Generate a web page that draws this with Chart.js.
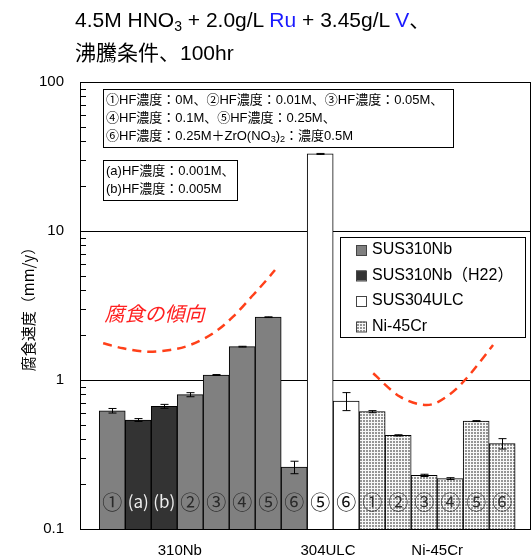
<!DOCTYPE html>
<html>
<head>
<meta charset="utf-8">
<script src="https://cdn.jsdelivr.net/npm/chart.js@4"></script>
<style>
  body { margin: 0; background: #fff; }
  #wrap { position: relative; width: 532px; height: 557px; }
  #chart { position: absolute; left: 0; top: 0; }
  #title { position: absolute; left: 75px; top: 3px; font: 21px "Liberation Sans", "Noto Sans CJK JP", sans-serif; line-height: 33px; color: #000; white-space: nowrap; }
  #title sub { font-size: 14px; vertical-align: -4px; line-height: 0; }
  #title .b { color: #1a1aff; }
</style>
</head>
<body>
<div id="wrap">
  <canvas id="chart" width="532" height="557"></canvas>
  <div id="title">4.5M HNO<sub>3</sub> + 2.0g/L <span class="b">Ru</span> + 3.45g/L <span class="b">V</span>、<br>沸騰条件、100hr</div>
</div>
<script>
// materials (legend) and which material each bar belongs to
const materials = ['SUS310Nb', 'SUS310Nb（H22）', 'SUS304ULC', 'Ni-45Cr'];
const barLabels = ['①', '(a)', '(b)', '②', '③', '④', '⑤', '⑥', '⑤', '⑥', '①', '②', '③', '④', '⑤', '⑥'];
const barMaterial = [0, 1, 1, 0, 0, 0, 0, 0, 2, 2, 3, 3, 3, 3, 3, 3];
// corrosion rate (mm/y) and error
const rates = [0.622, 0.539, 0.666, 0.797, 1.08, 1.674, 2.64, 0.26, 32.9, 0.723, 0.613, 0.425, 0.229, 0.218, 0.530, 0.374];
const errors = [0.022, 0.012, 0.02, 0.025, 0.008, 0.01, 0.015, 0.025, 0.25, 0.1, 0.01, 0.004, 0.004, 0.003, 0.004, 0.03];
// x axis group names and where they sit
const groupNames = ['310Nb', '304ULC', 'Ni-45Cr'];
const groupTicks = [2.6, 8.3, 12.5];
const yTicks = [0.1, 1, 10, 100];
// hand-drawn trend curves (bar index, mm/y)
const trendA = [[-0.35, 1.763], [0.42, 1.632], [1.32, 1.549], [2.22, 1.59], [2.99, 1.717], [3.88, 2.058], [4.65, 2.66], [5.42, 3.72], [5.94, 4.69], [6.26, 5.47]];
const trendB = [[10.04, 1.109], [11.07, 0.773], [12.09, 0.679], [12.86, 0.773], [13.63, 1.027], [14.65, 1.717]];

const noteLines1 = ['①HF濃度：0M、②HF濃度：0.01M、③HF濃度：0.05M、', '④HF濃度：0.1M、⑤HF濃度：0.25M、', '⑥HF濃度：0.25M＋ZrO(NO_3)_2：濃度0.5M'];
const noteLines2 = ['(a)HF濃度：0.001M、', '(b)HF濃度：0.005M'];

const FONT = '"Liberation Sans", "Noto Sans CJK JP", sans-serif';
const canvas = document.getElementById('chart');
const ctx = canvas.getContext('2d');

function dotPattern() {
    const c = document.createElement('canvas');
    c.width = 3; c.height = 3;
    const g = c.getContext('2d');
    g.fillStyle = '#f8f8f8';
    g.fillRect(0, 0, 3, 3);
    g.fillStyle = '#959595';
    g.fillRect(0, 0, 2, 2);
    return ctx.createPattern(c, 'repeat');
}

const fills = ['#808080', '#333333', '#ffffff', dotPattern()];
const labelColors = ['#2a2a2a', '#eeeeee', '#111111', '#333333'];

const datasets = materials.map((name, m) => ({
    label: name,
    data: rates.map((v, i) => ({ x: i, y: v })).filter((p, i) => barMaterial[i] === m),
    backgroundColor: fills[m],
    borderColor: '#000',
    borderWidth: 1,
    grouped: false,
    barPercentage: 1,
    categoryPercentage: 1
}));

// draw a line of text where "_x" is a subscript char
function drawRich(c, text, x, y, size) {
    const parts = [];
    for (let i = 0; i < text.length; i++) {
        if (text[i] === '_') { parts.push({ t: text[i + 1], sub: true }); i++; }
        else if (parts.length && !parts[parts.length - 1].sub) parts[parts.length - 1].t += text[i];
        else parts.push({ t: text[i], sub: false });
    }
    parts.forEach(p => {
        const fs = p.sub ? size * 0.7 : size;
        c.font = fs + 'px ' + FONT;
        c.fillText(p.t, x, p.sub ? y + size * 0.25 : y);
        x += c.measureText(p.t).width;
    });
}

function smoothPath(c, pts) {
    c.moveTo(pts[0][0], pts[0][1]);
    for (let i = 0; i < pts.length - 1; i++) {
        const p0 = pts[Math.max(i - 1, 0)], p1 = pts[i], p2 = pts[i + 1], p3 = pts[Math.min(i + 2, pts.length - 1)];
        c.bezierCurveTo(p1[0] + (p2[0] - p0[0]) / 6, p1[1] + (p2[1] - p0[1]) / 6,
                        p2[0] - (p3[0] - p1[0]) / 6, p2[1] - (p3[1] - p1[1]) / 6, p2[0], p2[1]);
    }
}

const extras = {
    id: 'extras',
    afterDatasetsDraw(chart) {
        const c = chart.ctx;
        const xs = chart.scales.x, ys = chart.scales.y, a = chart.chartArea;
        c.save();

        // error bars
        c.strokeStyle = '#000';
        c.lineWidth = 1;
        rates.forEach((v, i) => {
            const x = Math.round(xs.getPixelForValue(i)) + 0.5;
            const t = ys.getPixelForValue(v + errors[i]);
            const b = ys.getPixelForValue(v - errors[i]);
            c.beginPath();
            c.moveTo(x, t); c.lineTo(x, b);
            c.moveTo(x - 4, t); c.lineTo(x + 4, t);
            c.moveTo(x - 4, b); c.lineTo(x + 4, b);
            c.stroke();
        });

        // labels inside bars
        c.textAlign = 'center';
        c.textBaseline = 'middle';
        barLabels.forEach((lab, i) => {
            c.font = (lab.length > 1 ? 17 : 20) + 'px "Noto Sans CJK JP", ' + FONT;
            c.fillStyle = labelColors[barMaterial[i]];
            c.fillText(lab, xs.getPixelForValue(i), a.bottom - 27);
        });

        // minor ticks on the y axis
        c.beginPath();
        [0.1, 1, 10].forEach(d => {
            for (let k = 2; k <= 9; k++) {
                const y = Math.round(ys.getPixelForValue(k * d)) + 0.5;
                c.moveTo(a.left, y); c.lineTo(a.left + 6, y);
            }
        });
        c.stroke();

        // plot frame
        c.strokeRect(a.left + 0.5, a.top + 0.5, a.right - a.left - 1, a.bottom - a.top);

        // trend curves
        c.strokeStyle = '#ff4019';
        c.lineWidth = 2.5;
        c.setLineDash([9, 6]);
        [trendA, trendB].forEach(tr => {
            c.beginPath();
            smoothPath(c, tr.map(p => [xs.getPixelForValue(p[0]), ys.getPixelForValue(p[1])]));
            c.stroke();
        });
        c.setLineDash([]);
        c.fillStyle = '#ff2020';
        c.textAlign = 'left';
        c.font = 'italic 20px "Noto Sans CJK JP", sans-serif';
        c.fillText('腐食の傾向', xs.getPixelForValue(-0.3), ys.getPixelForValue(2.82));

        // note boxes
        c.strokeStyle = '#000';
        c.lineWidth = 1;
        c.textBaseline = 'middle';
        c.fillStyle = '#fff';
        c.fillRect(103.5, 89.5, 350, 58);
        c.strokeRect(103.5, 89.5, 350, 58);
        c.fillRect(103.5, 160.5, 134, 40);
        c.strokeRect(103.5, 160.5, 134, 40);
        c.fillStyle = '#000';
        noteLines1.forEach((t, i) => drawRich(c, t, 106, 100 + i * 18, 13));
        noteLines2.forEach((t, i) => drawRich(c, t, 106, 171 + i * 18, 13));

        // legend
        c.fillStyle = '#fff';
        c.fillRect(340.5, 237.5, 185, 100);
        c.strokeRect(340.5, 237.5, 185, 100);
        chart.data.datasets.forEach((ds, i) => {
            const y = 250 + i * 25.5;
            c.fillStyle = ds.backgroundColor;
            c.fillRect(356, y - 5, 10, 10);
            c.strokeStyle = '#444';
            c.strokeRect(356.5, y - 4.5, 10, 10);
            c.fillStyle = '#000';
            c.font = '16px ' + FONT;
            c.fillText(ds.label, 372, y);
        });
        c.restore();
    }
};

new Chart(canvas, {
    type: 'bar',
    data: { datasets: datasets },
    options: {
        responsive: false,
        animation: false,
        layout: { padding: { top: 82, right: 1, left: 0, bottom: 0 } },
        plugins: { legend: { display: false }, tooltip: { enabled: false } },
        scales: {
            x: {
                type: 'linear',
                min: -1.24,
                max: 16.11,
                offset: false,
                grid: { display: false },
                border: { display: false },
                afterBuildTicks: s => { s.ticks = groupTicks.map(v => ({ value: v })); },
                afterFit: s => { s.height = 28; },
                ticks: {
                    autoSkip: false,
                    maxRotation: 0,
                    padding: 5,
                    color: '#000',
                    font: { family: FONT, size: 15 },
                    callback: (v, i) => groupNames[i]
                }
            },
            y: {
                type: 'logarithmic',
                min: 0.1,
                max: 100,
                border: { display: false },
                grid: { color: '#000', lineWidth: 1, drawTicks: false },
                afterBuildTicks: s => { s.ticks = yTicks.map(v => ({ value: v })); },
                afterFit: s => { s.width = 80; },
                ticks: {
                    padding: 16,
                    color: '#000',
                    font: { family: FONT, size: 15 },
                    callback: v => String(v)
                },
                title: {
                    display: true,
                    text: '腐食速度（mm/y）',
                    color: '#000',
                    font: { family: '"Noto Sans CJK JP", sans-serif', size: 15 },
                    padding: { top: 19, bottom: 0 }
                }
            }
        }
    },
    plugins: [extras]
});
</script>
</body>
</html>
